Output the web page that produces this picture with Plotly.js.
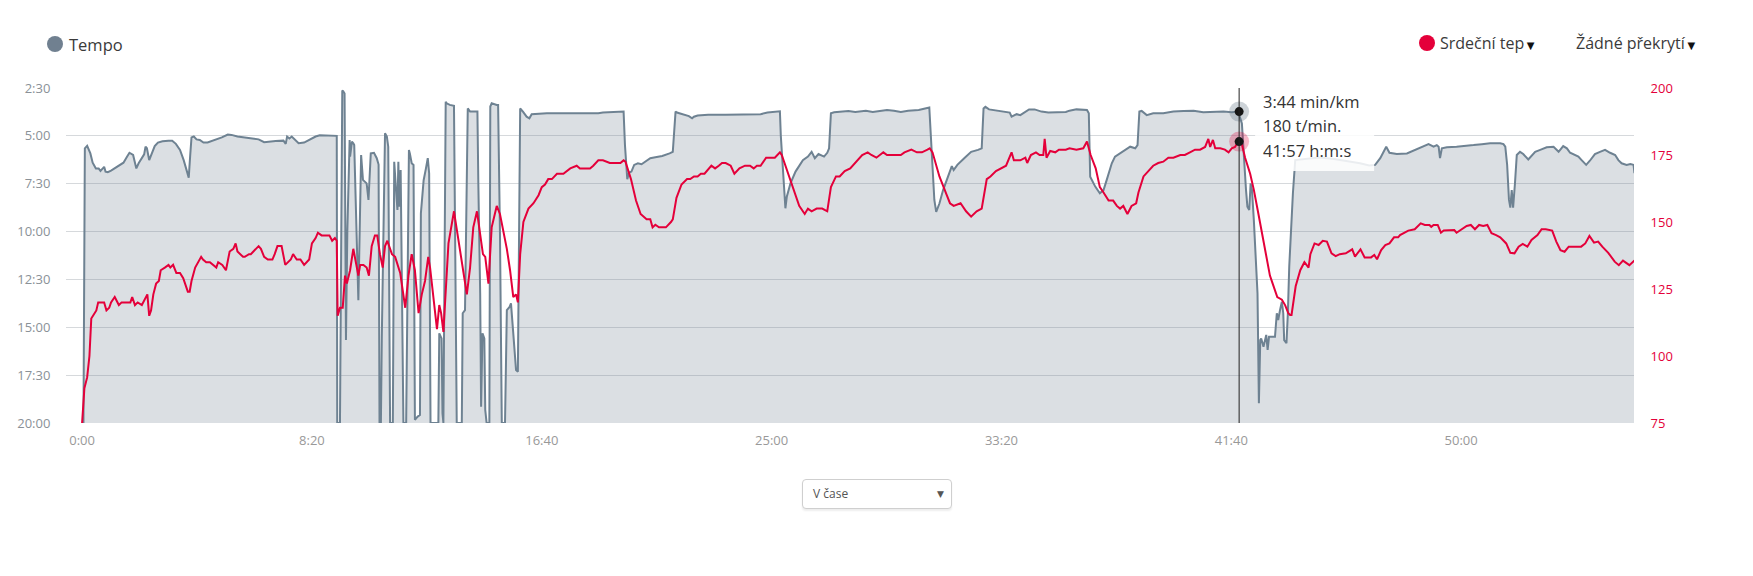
<!DOCTYPE html>
<html><head><meta charset="utf-8">
<script src="https://cdn.plot.ly/plotly-3.0.1.min.js"></script>
<style>
body{margin:0;background:#fff;}
#wrap{position:relative;width:1753px;height:576px;}
#chart{width:1753px;height:576px;}
#sel{position:absolute;left:802px;top:479px;width:150px;height:30px;box-sizing:border-box;border:1px solid #cfcfcf;border-radius:4px;box-shadow:0 2px 2px rgba(0,0,0,0.07);font-family:'Open Sans',sans-serif;font-size:12px;color:#555;line-height:28px;padding-left:10px;background:#fff;}
#sel .arr{position:absolute;right:7px;top:0;font-size:9px;color:#555;font-family:'DejaVu Sans',sans-serif;}
</style></head>
<body>
<div id="wrap"><div id="chart"></div><div id="sel">V čase<span class="arr">▼</span></div></div>
<script>
// ---- data (seconds) ----
const paceTime = [
3,5,6,11,18,23,30,36,40,45,48,51,56,63,71,80,90,98,103,111,118,123,130,135,138,141,146,151,158,165,175,188,196,204,213,221,228,232,235,238,243,249,256,264,273,281,292,304,317,325,338,354,371,384,396,404,421,438,443,446,451,456,463,471,483,496,508,517,529,546,554,
555,561,566,568,571,574,577,582,583,587,590,592,601,607,611,619,623,626,628,635,641,645,647,650,652,659,663,666,670,676,679,683,686,688,690,693,699,705,711,713,717,721,724,730,735,737,743,748,752,755,758,775,777,782,784,786,789,791,793,800,809,811,815,826,828,833,839,844,851,860,862,866,868,871,875,877,880,886,888,891,902,905,909,913,920,924,930,933,938,944,948,950,953,959,967,973,978,1011,1054,1091,1123,
1133,1171,1178,1181,1186,1190,1195,1201,1209,1217,1224,1236,1247,1262,1278,1285,1291,1294,1301,1308,1320,1327,1331,1339,1362,1400,1438,1476,1491,1514,1518,1520,1526,1530,1533,1541,1552,1568,1579,1587,1594,1602,1614,1621,1625,1629,1636,1651,1667,1682,1705,1720,1736,1751,1766,1781,1797,1820,1843,1846,1854,1858,1865,1873,1881,1892,1896,1904,1919,1934,1949,1957,1961,1965,1973,1988,2003,2018,2022,2033,2041,2049,2060,2072,2087,2102,2125,2140,2148,2163,2186,2190,2193,2204,2214,2222,2229,2240,2247,2262,2280,2291,2296,2300,2305,2316,2330,2352,2374,2396,2418,2439,2461,2483,2501,2515,2523,2526,2532,2535,2539,2542,2545,2549,2554,2557,2560,2563,2565,2570,2576,2579,2582,2595,2599,2602,2606,2610,2613,2615,2620,2623,2626,2630,2634,2639,2660,2690,2720,2750,2780,2800,2813,2824,2831,2837,2844,2860,2882,2900,2918,2929,2940,2947,2951,2954,2958,2969,2990,3012,3027,3045,3063,3085,3092,3096,3100,3104,3107,3110,3113,3117,3121,3128,3135,3146,3154,3161,3172,3186,3201,3212,3222,3230,3237,3248,3255,3262,3272,3280,3291,3302,3313,3324,3335,3342,3349,3360,3368,3375,3377];
const paceSec = [
1200,407,339,331,355,384,402,402,410,402,397,412,414,409,402,394,384,365,353,360,402,386,370,358,334,339,376,355,332,321,317,315,315,325,344,376,407,431,365,305,302,311,313,321,321,317,313,305,296,297,302,305,308,311,320,318,316,315,325,302,308,302,313,323,321,311,302,298,298,299,300,
1200,1200,158,160,167,940,600,313,365,318,323,329,815,360,438,449,501,400,355,353,370,390,1200,1200,930,292,302,334,1200,1200,381,470,532,381,522,407,1200,1200,344,355,386,391,1190,1180,1175,543,439,402,370,418,1200,1200,919,935,1170,1200,600,193,198,203,206,500,1200,1200,856,846,214,224,224,224,450,794,1149,919,935,1159,1200,1200,208,198,203,203,600,1200,1200,846,836,825,919,1034,1039,600,214,224,240,245,232,229,229,231,229,
227,225,224,330,436,415,412,391,386,389,381,370,367,363,355,350,224,227,230,233,238,245,240,236,234,234,233,232,227,225,223,300,418,527,491,449,412,376,365,350,370,357,365,353,339,229,226,225,222,225,221,225,223,219,221,225,221,219,211,300,501,538,512,470,438,395,407,391,370,350,344,339,214,209,217,221,224,227,240,232,235,227,217,217,224,227,227,225,221,217,219,229,428,459,480,470,438,386,365,350,334,339,329,224,222,235,229,229,224,222,221,226,224,224,226,224,261,339,470,522,532,449,470,564,710,794,1138,940,935,961,924,971,930,930,856,877,846,820,856,940,950,856,710,585,480,376,372,368,372,378,386,393,391,370,350,334,353,357,355,344,334,326,334,329,334,370,339,336,334,332,329,326,323,323,326,334,390,500,525,470,525,450,360,350,357,374,360,350,344,336,334,350,332,339,353,360,365,376,391,378,357,350,344,353,360,376,386,391,388,391,417];

const hrTime = [
0,5,11,16,20,28,31,35,48,53,59,63,71,80,86,105,109,115,121,130,138,142,146,150,155,161,167,171,180,188,192,198,205,213,220,225,230,234,238,246,253,259,263,270,278,286,292,296,305,313,321,329,334,338,350,354,363,367,373,384,389,396,404,414,419,425,434,438,442,454,459,467,475,483,494,500,508,513,521,538,544,550,554,
556,561,567,572,576,583,590,596,601,605,612,619,624,630,637,642,648,654,659,664,674,681,692,703,710,717,724,732,739,746,753,757,764,772,777,781,786,790,797,809,819,830,837,844,851,859,866,872,877,884,891,902,909,917,924,931,938,944,948,953,960,971,982,993,1000,1007,1014,1022,1033,1047,1062,1076,1083,1098,1105,1112,1123,
1133,1140,1148,1171,1178,1182,1194,1205,1215,1228,1236,1241,1247,1255,1262,1270,1281,1285,1293,1304,1316,1323,1331,1339,1346,1354,1369,1377,1385,1392,1400,1411,1419,1430,1442,1453,1461,1468,1476,1488,1507,1518,1522,1530,1545,1560,1572,1579,1587,1598,1610,1621,1629,1640,1648,1659,1671,1682,1697,1709,1717,1728,1743,1751,1766,1781,1789,1804,1816,1827,1839,1844,1850,1865,1881,1888,1896,1911,1923,1934,1946,1957,1968,1976,1988,1999,2010,2022,2027,2041,2052,2056,2064,2075,2083,2091,2094,2098,2106,2117,2125,2140,2148,2163,2178,2186,2194,2205,
2214,2222,2233,2243,2251,2258,2265,2274,2283,2293,2298,2309,2320,2330,2341,2352,2363,2374,2389,2399,2410,2421,2432,2443,2450,2454,2460,2465,2476,2486,2494,2501,2508,2515,2523,2530,2541,2549,2559,2570,2577,2584,2590,2595,2600,2610,2617,2624,2628,
2631,2640,2650,2659,2668,2672,2681,2690,2699,2708,2718,2727,2736,2749,2763,2769,2781,2790,2804,2811,2817,2826,2835,2844,2854,2863,2867,2876,2885,2899,2912,2921,2931,2935,2940,2949,2956,2962,2976,2985,2990,3003,3012,3021,3030,3039,3048,3057,3066,3076,3085,3098,3107,3116,3125,3134,3144,3153,3166,3175,3184,3198,3207,3216,3225,3234,3248,3261,3270,3279,3289,3298,3307,3320,3334,3343,3352,3366,3377];
const hrBpm = [
75,88,92,100,114,116,117,120,120,117,118,120,122,119,120,120,122,119,120,119,122,123,115,117,123,127,128,132,133,134,133,134,131,131,129,126,124,124,128,133,135,137,136,135,135,134,133,135,134,132,139,140,142,139,137,137,138,138,139,141,140,137,136,136,138,141,141,138,134,136,138,136,136,134,136,142,144,146,145,145,143,144,143,
115,118,118,130,127,132,140,135,130,134,134,133,130,141,145,145,138,133,141,143,138,137,131,118,130,138,132,116,123,128,137,133,122,110,119,116,109,123,142,154,143,131,123,133,148,154,146,138,137,127,148,156,153,146,140,132,122,123,120,138,150,155,157,160,163,164,166,166,168,168,170,171,170,170,170,171,173,
173,172.5,172,172,173,172.5,166,158,153,151,151,148,149,148,148,148,150,151,159,164,166,166,167,167,168,168,171,170,171,172,172,171,168,170,171,171,170,171,171,174,174,176,175,171,163,156,153,155,154,155,155,154,163,167,167,169,170,172,175,176,175,174,176,175,175,175,176,177,176,176,177,177.5,176,167,160,157,156,157,154,152,154,155,166,167,169,170,171,176,173,173,174,172,175,176,175,175,181,174,176.5,176,177,177,177.5,177,177.5,180,175,170,
163,161,158,158,156,155,156,153,156,157,161,167,169,171,172,172.5,174,174,175,175,176,177,177,178,181,178,180.6,177.5,177.5,177,176,177.5,178,180,179,174,168,162,153,143,137,130,127,124,122,121,119,116,115.3,
115.3,126,132,135,133,138,142,141.4,143,142.7,138.3,137.3,138,138.3,139.8,137.1,139.8,136.8,136.8,137.7,136.1,139.5,141.4,142,144.3,144.3,145.1,145.8,146.8,147.3,149.5,148.9,148.9,148.2,148.9,148.9,146,146.8,147,147,146,147.3,148.5,148.9,147.3,148.9,148.5,148.9,145.8,145.1,144.3,142,138.5,138.3,140.8,141.8,140.8,143.3,145.1,147.3,147.3,146.8,142.7,139.5,138.9,140.8,140.8,140.8,142,144.8,142.3,142.7,140.8,138.5,135.2,133.9,135.6,133.9,135.6];

// ---- axes ----
const xTickVals = [0,500,1000,1500,2000,2500,3000];
const xTickText = ['0:00','8:20','16:40','25:00','33:20','41:40','50:00'];
const paceTickVals = [150,300,450,600,750,900,1050,1200];
const paceTickText = ['2:30','5:00','7:30','10:00','12:30','15:00','17:30','20:00'];
const hrTickVals = [75,100,125,150,175,200];
const hrTickText = ['75','100','125','150','175','200'];

// ---- hovered point shown in the picture ----
const hoverTime = 2517;
const hoverPace = 224;
const hoverHR = 180;

const seriesNames = ['Tempo','Srdeční tep','Žádné překrytí'];

const PACE_COL = '#6e8292';
const HR_COL = '#e4003a';
const FONT = "'Open Sans', 'DejaVu Sans', sans-serif";

function mmss(s){const m=Math.floor(s/60), r=Math.round(s%60);return m+':'+(r<10?'0':'')+r;}

const paceMax = paceTickVals[paceTickVals.length-1];
const paceMin = paceTickVals[0];

const traces = [
  {x:[paceTime[0], paceTime[paceTime.length-1]], y:[paceMax, paceMax], mode:'lines', line:{width:0, color:'rgba(0,0,0,0)'}, hoverinfo:'skip', showlegend:false},
  {x:paceTime, y:paceSec, name:seriesNames[0], mode:'lines', fill:'tonexty', fillcolor:'rgba(112,128,144,0.25)', line:{color:PACE_COL, width:2}, showlegend:false},
  {x:hrTime, y:hrBpm, name:seriesNames[1], yaxis:'y2', mode:'lines', line:{color:HR_COL, width:2}, showlegend:false},
  {x:[hoverTime], y:[hoverPace], mode:'markers', marker:{size:20, color:'rgba(112,128,144,0.35)'}, showlegend:false, hoverinfo:'skip'},
  {x:[hoverTime], y:[hoverPace], mode:'markers', marker:{size:9, color:'#151515'}, showlegend:false, hoverinfo:'skip'},
  {x:[hoverTime], y:[hoverHR], yaxis:'y2', mode:'markers', marker:{size:20, color:'rgba(228,0,58,0.28)'}, showlegend:false, hoverinfo:'skip'},
  {x:[hoverTime], y:[hoverHR], yaxis:'y2', mode:'markers', marker:{size:9, color:'#151515'}, showlegend:false, hoverinfo:'skip'}
];

const tipFont = {family:FONT, size:16.5, color:'#333'};
const tipLines = [mmss(hoverPace)+' min/km', hoverHR+' t/min.', mmss(hoverTime)+' h:m:s'];
const tipShift = [-13, -37, -62];
const arrow = '<span style="font-size:10px;fill:#111"> ▼</span>';

const annotations = [
  {xref:'paper', yref:'paper', x:0, y:1, xanchor:'left', yanchor:'middle', xshift:1, yshift:44, text:seriesNames[0], showarrow:false, font:{family:FONT, size:16.5, color:'#3a3a3a'}},
  {xref:'paper', yref:'paper', x:1, y:1, xanchor:'left', yanchor:'middle', xshift:-196, yshift:45, text:seriesNames[1]+arrow, showarrow:false, font:{family:FONT, size:16, color:'#3a3a3a'}},
  {xref:'paper', yref:'paper', x:1, y:1, xanchor:'left', yanchor:'middle', xshift:-60, yshift:45, text:seriesNames[2]+arrow, showarrow:false, font:{family:FONT, size:16, color:'#3a3a3a'}}
];
tipLines.forEach((t,i)=>annotations.push({xref:'x', yref:'paper', x:hoverTime, y:1, xanchor:'left', yanchor:'middle', xshift:22, yshift:tipShift[i], text:t, showarrow:false, font:tipFont}));

const shapes = [
  {type:'line', xref:'x', yref:'paper', x0:hoverTime, x1:hoverTime, y0:0, y1:1, line:{color:'#222', width:1}},
  {type:'rect', layer:'above', xref:'x', xsizemode:'pixel', xanchor:hoverTime, x0:16, x1:135, yref:'paper', ysizemode:'pixel', yanchor:1, y0:-83, y1:2, fillcolor:'rgba(255,255,255,0.86)', line:{width:0}},
  {type:'circle', xref:'paper', xsizemode:'pixel', xanchor:0, x0:-19, x1:-3, yref:'paper', ysizemode:'pixel', yanchor:1, y0:36, y1:52, fillcolor:'#708090', line:{width:0}},
  {type:'circle', xref:'paper', xsizemode:'pixel', xanchor:1, x0:-215, x1:-199, yref:'paper', ysizemode:'pixel', yanchor:1, y0:37, y1:53, fillcolor:HR_COL, line:{width:0}}
];

const layout = {
  width:1753, height:576,
  margin:{l:66, r:119, t:88, b:153, pad:0},
  paper_bgcolor:'#fff', plot_bgcolor:'#fff',
  font:{family:FONT},
  showlegend:false,
  hovermode:false,
  xaxis:{range:[-35,3376], tickvals:xTickVals, ticktext:xTickText, showgrid:false, zeroline:false, showline:false,
         ticks:'outside', ticklen:5, tickcolor:'rgba(0,0,0,0)', tickfont:{family:FONT, size:13, color:'#999'}, fixedrange:true},
  yaxis:{range:[paceMax, paceMin], tickvals:paceTickVals, ticktext:paceTickText, showgrid:true, gridcolor:'#d6d9dc', gridwidth:1, zeroline:false, showline:false,
         ticks:'outside', ticklen:12, tickcolor:'rgba(0,0,0,0)', tickfont:{family:FONT, size:13, color:'#8a9197'}, fixedrange:true},
  yaxis2:{overlaying:'y', side:'right', range:[75,200], tickvals:hrTickVals, ticktext:hrTickText, showgrid:false, zeroline:false, showline:false,
          ticks:'outside', ticklen:13, tickcolor:'rgba(0,0,0,0)', tickfont:{family:FONT, size:13, color:HR_COL}, fixedrange:true},
  annotations:annotations,
  shapes:shapes
};

Plotly.newPlot('chart', traces, layout, {displayModeBar:false, staticPlot:true});
</script>
</body></html>
